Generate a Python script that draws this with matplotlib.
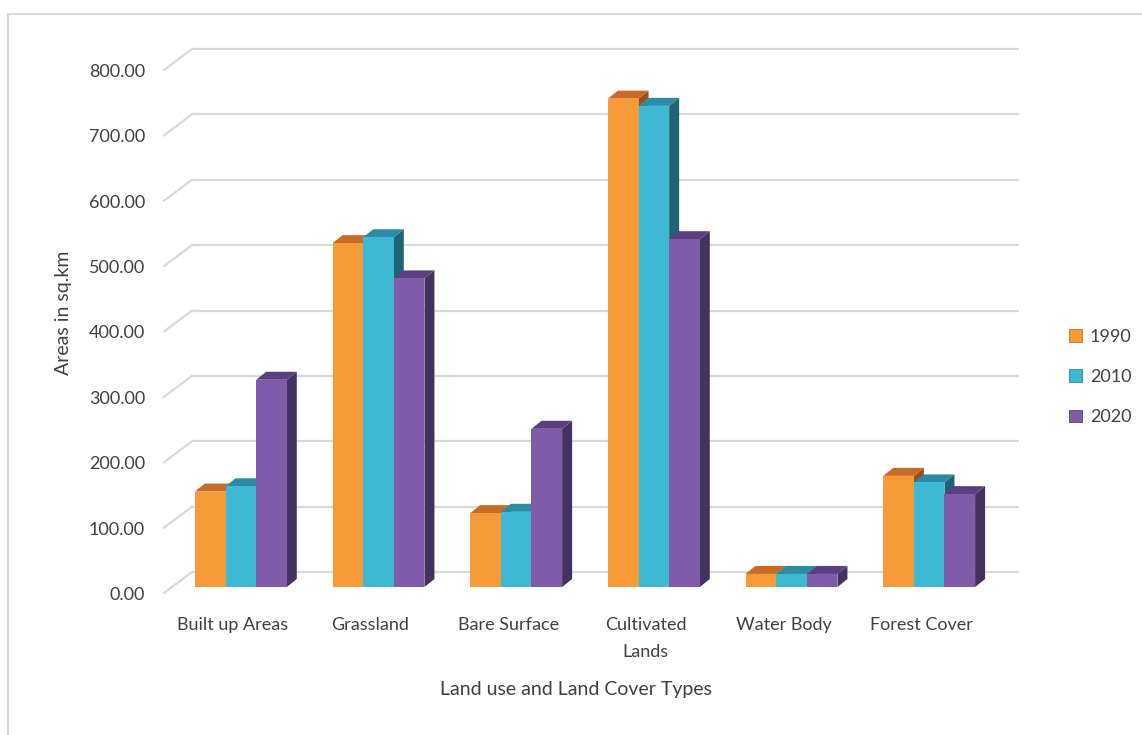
import numpy as np
import matplotlib.pyplot as plt
import matplotlib.transforms as mtransforms
from matplotlib.patches import Patch, Polygon
from matplotlib.lines import Line2D

plt.rcParams['font.family'] = ['Lato', 'DejaVu Sans']

categories = ['Built up Areas', 'Grassland', 'Bare Surface', 'Cultivated\nLands',
              'Water Body', 'Forest Cover']
years = ['1990', '2010', '2020']
v1990 = [146, 526, 113, 747, 20, 170]
v2010 = [154, 535, 115, 736, 20, 160]
v2020 = [317, 472, 242, 532, 20, 142]
yticks = [0, 100, 200, 300, 400, 500, 600, 700, 800]

front = ['#F79A38', '#3DB9D4', '#7F5BA9']
tops = ['#C96B25', '#2B8CA4', '#5B3F80']
sides = ['#9E4F18', '#1F6377', '#43315F']

W, H = 1142, 735
fig = plt.figure(figsize=(W / 100, H / 100), dpi=100)
ax_l, ax_r, ax_b, ax_t = 172, 998, 587, 64
ax = fig.add_axes([ax_l / W, 1 - ax_b / H, (ax_r - ax_l) / W, (ax_b - ax_t) / H])
ax.set_xlim(-0.5, 5.5)
ax.set_ylim(0, 800)
ax.axis('off')

# pixel -> data conversions
px_x = (ax_r - ax_l) / 6.0
px_y = (ax_b - ax_t) / 800.0

def off(dx, dy):
    return mtransforms.offset_copy(ax.transData, fig=fig, x=dx, y=dy, units='dots')

back = off(20, 15)

# back wall gridlines and floor diagonals
for t in yticks:
    ax.plot([-0.5, 5.5], [t, t], color='#D9D9D9', lw=1.6, transform=back, clip_on=False, zorder=1)
    x0 = -0.5
    ax.plot([x0 + 20 / px_x, x0 - 8 / px_x], [t + 15 / px_y, t - 6 / px_y],
            color='#D9D9D9', lw=1.6, clip_on=False, zorder=1)
    ax.text(-0.5, t, f'{t:.2f}', transform=off(-27, -8), ha='right', va='center',
            fontsize=13, color='#404040')

# 3D-looking bars
x = np.arange(len(categories))
bw = 0.2225
ddx = 10 / px_x
ddy = 8 / px_y
series = [v1990, v2010, v2020]
for i in range(len(categories)):
    for j, vals in enumerate(series):
        h = vals[i]
        xl = x[i] + (j - 1) * bw - bw / 2
        xr = xl + bw
        side = Polygon([(xr, 0), (xr, h), (xr + ddx, h + ddy), (xr + ddx, ddy)],
                       closed=True, fc=sides[j], ec='none', zorder=3, clip_on=False)
        top = Polygon([(xl, h), (xr, h), (xr + ddx, h + ddy), (xl + ddx, h + ddy)],
                      closed=True, fc=tops[j], ec='none', zorder=3, clip_on=False)
        ax.add_patch(side)
        ax.add_patch(top)
        ax.bar(xr - bw / 2, h, width=bw, color=front[j], zorder=3, clip_on=False)

# category labels in the front plane
for i, c in enumerate(categories):
    ax.text(x[i], 0, c, transform=off(-8, -30), ha='center', va='top',
            fontsize=13, color='#404040', linespacing=1.87)

fig.text(576 / W, 1 - 690 / H, 'Land use and Land Cover Types', ha='center', va='center',
         fontsize=14, color='#404040')
fig.text(64 / W, 1 - 313 / H, 'Areas in sq.km', ha='center', va='center', rotation=90,
         fontsize=14, color='#404040')

handles = [Patch(facecolor=front[k], edgecolor=tops[k], lw=0.6) for k in range(3)]
fig.legend(handles, years, loc='center left', bbox_to_anchor=(1053 / W, 1 - 377 / H),
           frameon=False, fontsize=13, handlelength=0.7, handleheight=0.7,
           handletextpad=0.45, labelspacing=1.35, labelcolor='#404040')

# chart border
fig.add_artist(Line2D([8 / W, 8 / W, 1.0], [0, 1 - 14 / H, 1 - 14 / H],
                      color='#D9D9D9', lw=1.5, transform=fig.transFigure))

fig.savefig('out.png', dpi=100)
